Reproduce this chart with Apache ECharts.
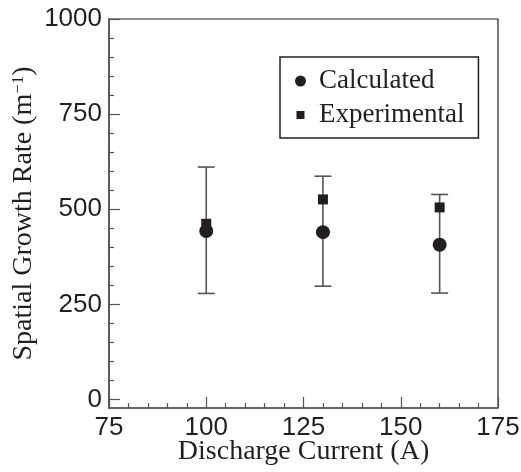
<!DOCTYPE html>
<html>
<head>
<meta charset="utf-8">
<style>
  html, body { margin: 0; padding: 0; background: #ffffff; }
  #chart { width: 521px; height: 472px; }
</style>
<script src="https://cdn.jsdelivr.net/npm/echarts@6/dist/echarts.min.js"></script>
</head>
<body>
<div id="chart"></div>
<script>
// Discharge current (A) at each measurement
const currents = [100, 130, 160];
// Spatial growth rate (1/m)
const calculated = [443, 440, 407];
const experimental = [462, 526, 505];
// Error bar limits
const errLow = [279, 298, 280];
const errHigh = [611, 587, 539];

// Axis ticks
const yMajorTicks = [0, 250, 500, 750, 1000];
const yMinorTicks = [50, 100, 150, 200, 300, 350, 400, 450, 550, 600, 650, 700, 800, 850, 900, 950];

const ink = '#231f20';
const serif = '"Liberation Serif", "Times New Roman", serif';
const sans = '"Liberation Sans", Arial, sans-serif';

const errData = currents.map((c, i) => [c, errLow[i], errHigh[i]]);

const chart = echarts.init(document.getElementById('chart'), null, { renderer: 'canvas' });

chart.setOption({
  animation: false,
  backgroundColor: '#ffffff',
  grid: {
    left: 109, right: 23, top: 19, bottom: 64,
    containLabel: false,
    outerBoundsMode: 'none',
    show: true, borderColor: '#222', borderWidth: 1.2, backgroundColor: 'transparent'
  },
  legend: {
    orient: 'vertical',
    left: 280, top: 57,
    padding: [9, 14, 8, 15],
    itemGap: 4,
    itemWidth: 11, itemHeight: 11,
    borderColor: ink, borderWidth: 1.5,
    textStyle: { fontFamily: serif, fontSize: 27, color: ink, lineHeight: 30, padding: [0, 0, 0, 8] },
    data: [
      { name: 'Calculated', icon: 'circle' },
      { name: 'Experimental', icon: 'path://M0,0M11,11M1.5,1.5h8v8h-8z' }
    ]
  },
  xAxis: {
    type: 'value',
    min: 75, max: 175, interval: 25,
    name: 'Discharge Current (A)',
    nameLocation: 'middle',
    nameGap: 30,
    nameMoveOverlap: false,
    nameTextStyle: { fontFamily: serif, fontSize: 28, color: ink },
    axisLine: { show: true, onZero: false, lineStyle: { color: '#555', width: 1.6 } },
    axisTick: { show: true, inside: true, length: 11, lineStyle: { color: '#555', width: 1.2 } },
    minorTick: { show: true, splitNumber: 5, length: 5, lineStyle: { color: '#555', width: 1.2 } },
    axisLabel: { fontFamily: sans, fontSize: 26, color: ink, margin: 7 },
    splitLine: { show: false },
    minorSplitLine: { show: false }
  },
  yAxis: [
    {
      type: 'value',
      min: -22, max: 1000,
      name: '{a|Spatial Growth Rate (m}{sup|−1}{a|)}',
      nameLocation: 'middle',
      nameGap: 71,
      nameMoveOverlap: false,
      nameTextStyle: {
        fontFamily: serif, fontSize: 28, color: ink,
        rich: {
          a: { fontFamily: serif, fontSize: 28, color: ink },
          sup: { fontFamily: serif, fontSize: 17, color: ink, verticalAlign: 'top' }
        }
      },
      axisLine: { show: true, onZero: false, lineStyle: { color: '#555', width: 1.6 } },
      axisTick: { show: true, inside: true, length: 11, customValues: yMajorTicks, lineStyle: { color: '#555', width: 1.2 } },
      axisLabel: {
        fontFamily: sans, fontSize: 26, color: ink, margin: 7, customValues: yMajorTicks,
        formatter: function (v) { return String(v); }
      },
      splitLine: { show: false }
    },
    {
      type: 'value',
      min: -22, max: 1000,
      position: 'left',
      axisLine: { show: false },
      axisTick: { show: true, inside: true, length: 5, customValues: yMinorTicks, lineStyle: { color: '#555', width: 1.2 } },
      axisLabel: { show: false },
      splitLine: { show: false }
    }
  ],
  series: [
    {
      name: 'Error',
      type: 'custom',
      z: 1,
      data: errData,
      renderItem: function (params, api) {
        const x = api.value(0);
        const lo = api.coord([x, api.value(1)]);
        const hi = api.coord([x, api.value(2)]);
        const cap = 8.5;
        const style = { stroke: '#555', lineWidth: 1.6 };
        return {
          type: 'group',
          children: [
            { type: 'line', shape: { x1: lo[0], y1: lo[1], x2: hi[0], y2: hi[1] }, style: style },
            { type: 'line', shape: { x1: lo[0] - cap, y1: lo[1], x2: lo[0] + cap, y2: lo[1] }, style: style },
            { type: 'line', shape: { x1: hi[0] - cap, y1: hi[1], x2: hi[0] + cap, y2: hi[1] }, style: style }
          ]
        };
      }
    },
    {
      name: 'Experimental',
      type: 'scatter',
      z: 3,
      symbol: 'rect',
      symbolSize: 10,
      itemStyle: { color: ink, opacity: 1 },
      data: currents.map((c, i) => [c, experimental[i]])
    },
    {
      name: 'Calculated',
      type: 'scatter',
      z: 4,
      symbol: 'circle',
      symbolSize: 14,
      itemStyle: { color: ink, opacity: 1 },
      data: currents.map((c, i) => [c, calculated[i]])
    }
  ]
});
</script>
</body>
</html>
